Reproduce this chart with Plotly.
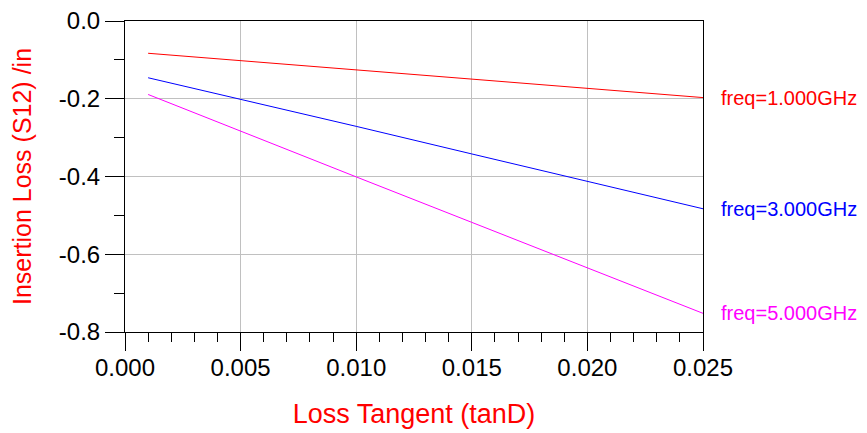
import plotly.graph_objects as go

# Data
loss_tangent = [0.001, 0.005, 0.010, 0.015, 0.020, 0.025]
il_1ghz = [-0.083, -0.102, -0.126, -0.150, -0.173, -0.197]
il_3ghz = [-0.146, -0.201, -0.271, -0.342, -0.413, -0.483]
il_5ghz = [-0.189, -0.284, -0.401, -0.518, -0.635, -0.752]

series_labels = ["freq=1.000GHz", "freq=3.000GHz", "freq=5.000GHz"]
series_colors = ["#ff0000", "#0000ff", "#ff00ff"]

x_tickvals = [0.000, 0.005, 0.010, 0.015, 0.020, 0.025]
x_ticktext = ["0.000", "0.005", "0.010", "0.015", "0.020", "0.025"]
y_tickvals = [0.0, -0.2, -0.4, -0.6, -0.8]
y_ticktext = ["0.0", "-0.2", "-0.4", "-0.6", "-0.8"]

FONT = "Liberation Sans, Arial, sans-serif"

fig = go.Figure()
for vals, name, col in zip([il_1ghz, il_3ghz, il_5ghz], series_labels, series_colors):
    fig.add_trace(go.Scatter(x=loss_tangent, y=vals, mode="lines", name=name,
                             line=dict(color=col, width=1), showlegend=False))
    fig.add_annotation(x=loss_tangent[-1], y=vals[-1], xref="x", yref="y",
                       text=name, showarrow=False, xanchor="left", yanchor="middle",
                       xshift=16, font=dict(family=FONT, size=20, color=col))

# the page body adds an 8px offset; size the figure to fill the rest of the window
fig.update_layout(
    width=859, height=425,
    margin=dict(l=117, r=164, t=13, b=101, autoexpand=False),
    paper_bgcolor="white", plot_bgcolor="white",
    font=dict(family=FONT, color="black"),
)
fig.update_xaxes(
    automargin=False,
    range=[0, 0.025], tickmode="array", tickvals=x_tickvals, ticktext=x_ticktext,
    ticks="outside", ticklen=18, tickwidth=1, tickcolor="black",
    tickfont=dict(family=FONT, size=24, color="black"), ticklabelstandoff=-4,
    ticklabeloverflow="allow",
    showgrid=True, gridcolor="#c0c0c0", gridwidth=1,
    showline=True, linecolor="black", linewidth=1, mirror=True, zeroline=False,
    minor=dict(tickmode="linear", tick0=0, dtick=0.001, ticks="outside", ticklen=9,
               tickcolor="black", tickwidth=1, showgrid=False),
    title=dict(text="Loss Tangent (tanD)", font=dict(family=FONT, size=27, color="#ff0000"), standoff=24),
)
fig.update_yaxes(
    automargin=False,
    range=[-0.8, 0], tickmode="array", tickvals=y_tickvals, ticktext=y_ticktext,
    ticks="outside", ticklen=19, tickwidth=1, tickcolor="black",
    tickfont=dict(family=FONT, size=24, color="black"),
    ticklabeloverflow="allow",
    showgrid=True, gridcolor="#c0c0c0", gridwidth=1,
    showline=True, linecolor="black", linewidth=1, mirror=True, zeroline=False,
    minor=dict(tickmode="linear", tick0=0, dtick=0.1, ticks="outside", ticklen=10,
               tickcolor="black", tickwidth=1, showgrid=False),
    title=dict(text="Insertion Loss (S12) /in", font=dict(family=FONT, size=25, color="#ff0000"), standoff=22),
)

fig.write_html("out.html")
